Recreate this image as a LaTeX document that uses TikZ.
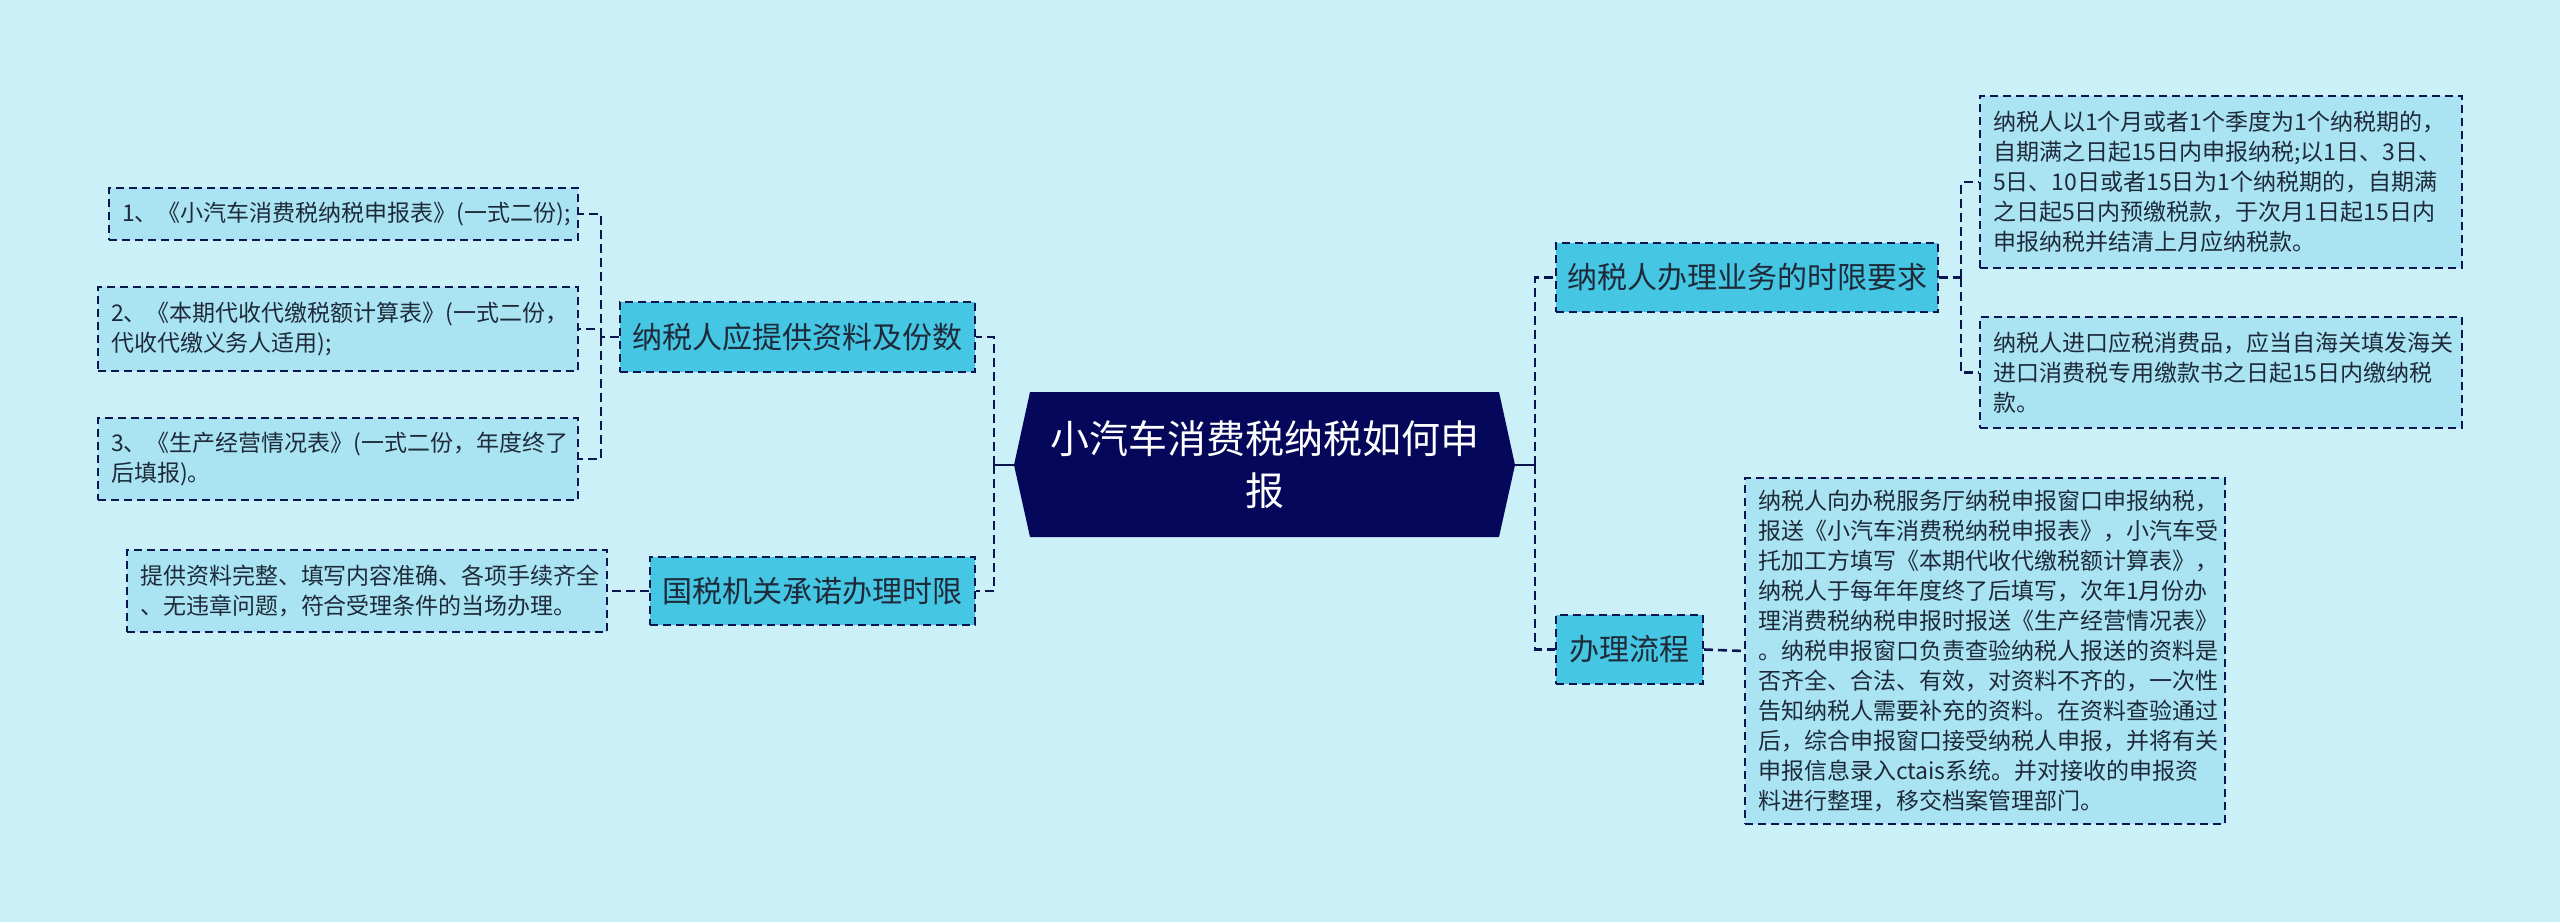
\documentclass[tikz,border=0pt]{standalone}
\usepackage{fontspec}
\setmainfont{Noto Sans CJK SC}
\definecolor{bg}{HTML}{CBF0F8}
\definecolor{lc}{HTML}{0B1650}
\definecolor{cfill}{HTML}{05085A}
\definecolor{lonefill}{HTML}{45C6E2}
\definecolor{ltwofill}{HTML}{AAE4F2}
\definecolor{tc}{HTML}{1E2A3A}
\begin{document}
\begin{tikzpicture}[x=0.5pt,y=-0.5pt,
  conn/.style={draw=lc, line width=1.3pt, dash pattern=on 4.5pt off 2.5pt},
  solidc/.style={draw=lc, line width=1.4pt},
  lone/.style={draw=lc, fill=lonefill, line width=1pt, dash pattern=on 4pt off 2.5pt,
    font=\fontsize{15pt}{18pt}\selectfont, text=tc, inner sep=0pt, align=center},
  ltwo/.style={draw=lc, fill=ltwofill, line width=1pt, dash pattern=on 4pt off 2.5pt,
    font=\fontsize{11.5pt}{15pt}\selectfont, text=tc, inner xsep=6.5pt, inner ysep=0pt, align=left},
]
\fill[bg] (0,0) rectangle (2560,922);
\useasboundingbox (0,0) rectangle (2560,922);

% central topic
\fill[cfill] (1014,465) -- (1030,392) -- (1499,392) -- (1515,465) -- (1499,537) -- (1030,537) -- cycle;
\node[text=white, font=\fontsize{19.5pt}{26pt}\selectfont, align=center] (c) at (1264.5,465) {小汽车消费税纳税如何申\\报};
\coordinate (cL) at (1014,465);
\coordinate (cR) at (1515,465);

% left branch
\node[lone, minimum width=177.5pt, minimum height=35pt] (la) at (797.5,337) {纳税人应提供资料及份数};
\node[lone, minimum width=162.5pt, minimum height=34pt] (lb) at (812.5,591) {国税机关承诺办理时限};

\node[ltwo, text width=221.5pt, minimum height=26pt] (b1) at (343.5,214) {1、《小汽车消费税纳税申报表》(一式二份);};
\node[ltwo, text width=227pt, minimum height=42pt] (b2) at (338,329) {2、《本期代收代缴税额计算表》(一式二份，\\代收代缴义务人适用);};
\node[ltwo, text width=227pt, minimum height=41pt] (b3) at (338,459) {3、《生产经营情况表》(一式二份，年度终了\\后填报)。};
\node[ltwo, text width=227pt, minimum height=41pt] (b4) at (367,591) {提供资料完整、填写内容准确、各项手续齐全\\、无违章问题，符合受理条件的当场办理。};

% right branch
\node[lone, minimum width=191pt, minimum height=34.5pt] (r1) at (1747,277.5) {纳税人办理业务的时限要求};
\node[lone, minimum width=73.5pt, minimum height=34.5pt] (r2) at (1629.5,649.5) {办理流程};

\node[ltwo, text width=228pt, minimum height=86pt] (ra) at (2221,182) {纳税人以1个月或者1个季度为1个纳税期的，\\自期满之日起15日内申报纳税;以1日、3日、\\5日、10日或者15日为1个纳税期的，自期满\\之日起5日内预缴税款，于次月1日起15日内\\申报纳税并结清上月应纳税款。};
\node[ltwo, text width=228pt, minimum height=55.5pt] (rb) at (2221,372.5) {纳税人进口应税消费品，应当自海关填发海关\\进口消费税专用缴款书之日起15日内缴纳税\\款。};
\node[ltwo, text width=227pt, minimum height=173pt] (rc) at (1985,651) {纳税人向办税服务厅纳税申报窗口申报纳税，\\报送《小汽车消费税纳税申报表》，小汽车受\\托加工方填写《本期代收代缴税额计算表》，\\纳税人于每年年度终了后填写，次年1月份办\\理消费税纳税申报时报送《生产经营情况表》\\。纳税申报窗口负责查验纳税人报送的资料是\\否齐全、合法、有效，对资料不齐的，一次性\\告知纳税人需要补充的资料。在资料查验通过\\后，综合申报窗口接受纳税人申报，并将有关\\申报信息录入ctais系统。并对接收的申报资\\料进行整理，移交档案管理部门。};

% connectors left
\coordinate (tL) at (994,465);
\draw[solidc] (cL) -- (tL);
\draw[conn] (tL) |- (la.east);
\draw[conn] (tL) |- (lb.east);
\coordinate (t1) at (601,337);
\draw[conn] (la.west) -- (t1);
\draw[conn] (t1) |- (b1.east);
\draw[conn] (t1) |- (b2.east);
\draw[conn] (t1) |- (b3.east);
\draw[conn] (lb.west) -- (b4.east);

% connectors right
\coordinate (tR) at (1535,465);
\draw[solidc] (cR) -- (tR);
\draw[conn] (tR) |- (r1.west);
\draw[conn] (tR) |- (r2.west);
\coordinate (t2) at (1961,277.5);
\draw[conn] (r1.east) -- (t2);
\draw[conn] (t2) |- (ra.west);
\draw[conn] (t2) |- (rb.west);
\draw[conn] (r2.east) -- (rc.west);
\end{tikzpicture}
\end{document}
